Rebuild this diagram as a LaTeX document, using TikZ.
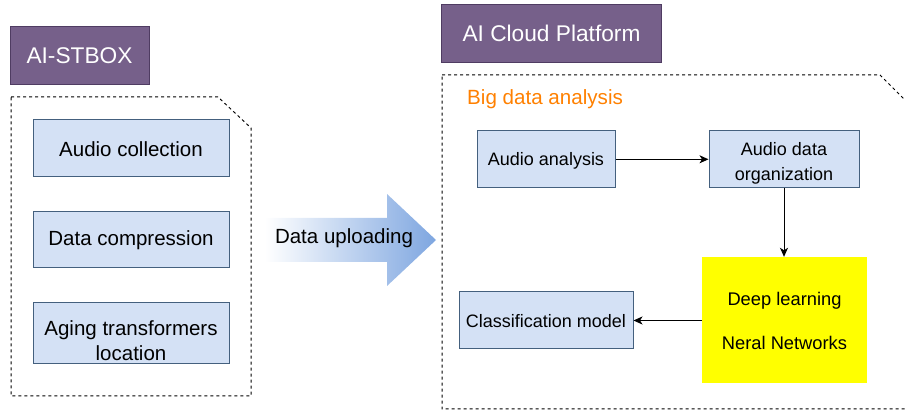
\documentclass[tikz,border=0pt]{standalone}
\usepackage{fontspec}
\setmainfont{Liberation Sans}
\usetikzlibrary{arrows.meta}

\definecolor{titlepurple}{HTML}{76608A}
\definecolor{titleedge}{HTML}{4F3C62}
\definecolor{boxfill}{HTML}{D4E1F5}
\definecolor{boxedge}{HTML}{44607E}
\definecolor{uploadblue}{HTML}{7EA6E0}
\definecolor{headingorange}{HTML}{FF8000}
\definecolor{dlyellow}{HTML}{FFFF00}

% Text whose baseline sits #1 below the centre of its box
\newcommand\lowtext[2]{\smash{\raisebox{-#1}{#2}}}
% Several centred lines; the last baseline sits #1 below the centre
\newcommand\lowlines[2]{\smash{\raisebox{-#1}{\begin{tabular}[b]{@{}c@{}}#2\end{tabular}}}}

\tikzset{
  titlebox/.style={draw=titleedge, fill=titlepurple, line width=1pt, inner sep=0pt,
    text=white, font=\fontsize{22.7}{27}\selectfont},
  leftbox/.style={draw=boxedge, fill=boxfill, line width=1pt, inner sep=0pt,
    minimum width=196pt, font=\fontsize{20.5}{25}\selectfont},
  rightbox/.style={draw=boxedge, fill=boxfill, line width=1pt, inner sep=0pt,
    font=\fontsize{18}{25}\selectfont},
  container/.style={draw=black, line width=1pt, dash pattern=on 3pt off 3pt},
  flow/.style={draw=black, line width=1pt, -{Stealth[length=9pt,width=8pt,inset=2.5pt]}},
}

\begin{document}
\begin{tikzpicture}[x=1pt, y=-1pt]
  \useasboundingbox (0,0) rectangle (905,411);
  \clip (0,0) rectangle (905,411);

  % ---- edge device side ----
  \node[titlebox, minimum width=139pt, minimum height=58pt] (stbox) at (79.5,56) {\lowtext{7.3pt}{AI-STBOX}};
  \draw[container] (11,97) -- (218,97) -- (251,128) -- (251,396) -- (11,396) -- cycle;

  \node[leftbox, minimum height=57.5pt] (collect) at (131,148) {\lowtext{8.7pt}{Audio collection}};
  \node[leftbox, minimum height=56pt] (compress) at (131,240) {\lowtext{5.7pt}{Data compression}};
  \node[leftbox, minimum height=61pt] (locate) at (131,333.5) {\lowlines{26.8pt}{Aging transformers\\location}};

  % ---- upload arrow ----
  \shade[left color=white, right color=uploadblue]
    (265,218) -- (387,218) -- (387,194) -- (436,240) -- (387,286) -- (387,262) -- (265,262) -- cycle;
  \node[anchor=base, inner sep=0pt, font=\fontsize{20.5}{24}\selectfont] (upload) at (344,243.3) {Data uploading};

  % ---- cloud side ----
  \node[titlebox, minimum width=220pt, minimum height=58pt] (cloud) at (551.5,34) {\lowtext{7.7pt}{AI Cloud Platform}};
  \draw[container] (442,75) -- (880,75) -- (920,115) -- (920,409) -- (442,409) -- cycle;
  \node[anchor=base west, inner sep=0pt, text=headingorange, font=\fontsize{20.6}{24}\selectfont] (bigdata) at (467,105) {Big data analysis};

  \node[rightbox, minimum width=138pt, minimum height=57pt] (analysis) at (546,159.3) {\lowtext{6pt}{Audio analysis}};
  \node[rightbox, minimum width=150pt, minimum height=57pt] (organize) at (784,159.3) {\lowlines{21.2pt}{Audio data\\organization}};
  \node[fill=dlyellow, inner sep=0pt, minimum width=165pt, minimum height=126pt,
    font=\fontsize{18.3}{43.6}\selectfont] (deep) at (784.5,320) {\lowlines{29.3pt}{Deep learning\\Neral Networks}};
  \node[rightbox, minimum width=174pt, minimum height=57pt] (classify) at (546,320.5) {\lowtext{6.8pt}{Classification model}};

  \draw[flow] (analysis.east) -- (organize.west);
  \draw[flow] (organize.south) -- (organize.south |- deep.north);
  \draw[flow] (deep.west |- classify.east) -- (classify.east);
\end{tikzpicture}
\end{document}
